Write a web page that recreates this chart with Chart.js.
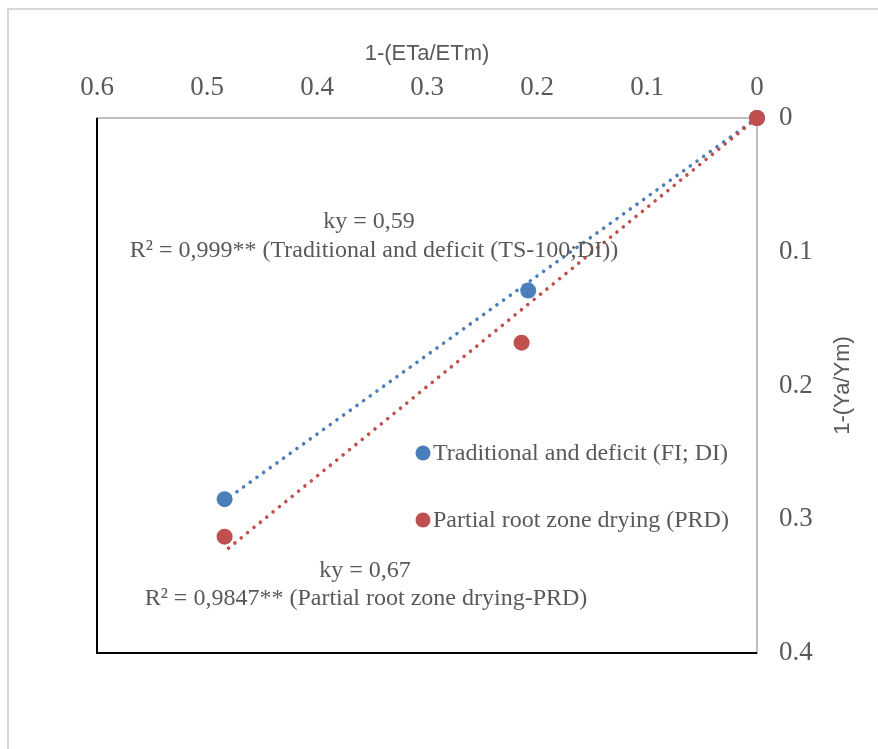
<!DOCTYPE html>
<html>
<head>
<meta charset="utf-8">
<script src="https://cdn.jsdelivr.net/npm/chart.js@4.4.1/dist/chart.umd.min.js"></script>
<style>
  html, body { margin: 0; padding: 0; background: #fff; }
  #wrap { width: 878px; height: 749px; position: relative; }
</style>
</head>
<body>
<div id="wrap"><canvas id="chart" width="878" height="749"></canvas></div>
<script>
// Data
const seriesNames = ['Traditional and deficit (FI; DI)', 'Partial root zone drying (PRD)'];
const tradX = [0, 0.208, 0.484];
const tradY = [0, 0.129, 0.285];
const prdX = [0, 0.214, 0.484];
const prdY = [0, 0.168, 0.313];

// trendlines through the origin (ky = slope)
const tradTrendX = [0, 0.484];
const tradTrendY = [0, 0.286];
const prdTrendX = [0, 0.484];
const prdTrendY = [0, 0.324];

const xTicks = [0, 0.1, 0.2, 0.3, 0.4, 0.5, 0.6];
const yTicks = [0, 0.1, 0.2, 0.3, 0.4];

const tradNote = ['ky = 0,59', 'R² = 0,999** (Traditional and deficit (TS-100;DI))'];
const prdNote = ['ky = 0,67', 'R² = 0,9847** (Partial root zone drying-PRD)'];

const blue = '#4a7ebb';
const red = '#c0504d';
const textGray = '#595959';
const serif = "'Liberation Serif', 'Times New Roman', serif";
const sans = "'Liberation Sans', Arial, sans-serif";

function pts(xs, ys) {
  return xs.map((x, i) => ({ x: x, y: ys[i] }));
}

// frame, outer border, legend, notes and the rotated y title
const decor = {
  id: 'decor',
  beforeDraw(chart) {
    const ctx = chart.ctx;
    ctx.save();
    ctx.fillStyle = '#fff';
    ctx.fillRect(0, 0, chart.width, chart.height);
    ctx.strokeStyle = '#d9d9d9';
    ctx.lineWidth = 2;
    ctx.strokeRect(8, 9, chart.width + 20, chart.height + 20);
    ctx.restore();
  },
  beforeDatasetsDraw(chart) {
    const ctx = chart.ctx;
    const a = chart.chartArea;
    ctx.save();
    ctx.strokeStyle = '#000';
    ctx.lineWidth = 2;
    ctx.beginPath();
    ctx.moveTo(a.left, a.top);
    ctx.lineTo(a.left, a.bottom);
    ctx.lineTo(a.right, a.bottom);
    ctx.stroke();
    ctx.restore();
  },
  afterDraw(chart) {
    const ctx = chart.ctx;
    const a = chart.chartArea;
    ctx.save();

    // legend inside the plot
    ctx.font = '24px ' + serif;
    ctx.textBaseline = 'middle';
    ctx.textAlign = 'left';
    const legendY = [453, 520];
    [blue, red].forEach((c, i) => {
      ctx.fillStyle = c;
      ctx.beginPath();
      ctx.arc(423, legendY[i], 7.5, 0, Math.PI * 2);
      ctx.fill();
      ctx.fillStyle = textGray;
      ctx.fillText(seriesNames[i], 433, legendY[i] + 1);
    });

    // trendline labels
    ctx.textAlign = 'center';
    ctx.fillText(tradNote[0], 369, 222);
    ctx.fillText(tradNote[1], 374, 251);
    ctx.fillText(prdNote[0], 365, 571);
    ctx.fillText(prdNote[1], 366, 599);

    // y axis title, reading bottom to top
    ctx.font = '22px ' + sans;
    ctx.translate(843, (a.top + a.bottom) / 2);
    ctx.rotate(-Math.PI / 2);
    ctx.fillText('1-(Ya/Ym)', 0, 0);
    ctx.restore();
  }
};

const trendStyle = {
  type: 'line',
  showLine: true,
  pointRadius: 0,
  borderWidth: 3.6,
  borderDash: [0.01, 8.2],
  borderCapStyle: 'round',
  fill: false,
  clip: false
};

new Chart(document.getElementById('chart'), {
  type: 'scatter',
  data: {
    datasets: [
      { label: seriesNames[1], data: pts(prdX, prdY), backgroundColor: red, borderColor: red, pointRadius: 8, pointBorderWidth: 0, order: 0, clip: false },
      { label: seriesNames[0], data: pts(tradX, tradY), backgroundColor: blue, borderColor: blue, pointRadius: 8, pointBorderWidth: 0, order: 1, clip: false },
      Object.assign({ label: 'trend FI', data: pts(tradTrendX, tradTrendY), borderColor: blue, order: 3 }, trendStyle),
      Object.assign({ label: 'trend PRD', data: pts(prdTrendX, prdTrendY), borderColor: red, order: 2 }, trendStyle)
    ]
  },
  options: {
    responsive: false,
    animation: false,
    layout: { padding: { left: 97, right: 0, top: 0, bottom: 96 } },
    plugins: { legend: { display: false }, tooltip: { enabled: false } },
    scales: {
      x: {
        type: 'linear',
        position: 'top',
        reverse: true,
        min: 0,
        max: 0.6,
        afterBuildTicks(scale) { scale.ticks = xTicks.map(v => ({ value: v })); },
        afterFit(scale) { scale.height = 118; },
        grid: { display: false, drawTicks: false },
        border: { display: true, color: '#bfbfbf', width: 2 },
        ticks: {
          color: textGray,
          padding: 14,
          font: { family: serif, size: 27 },
          maxRotation: 0,
          callback: v => String(v)
        },
        title: {
          display: true,
          text: '1-(ETa/ETm)',
          color: textGray,
          font: { family: sans, size: 22 },
          padding: { top: 41, bottom: 0 }
        }
      },
      y: {
        type: 'linear',
        position: 'right',
        reverse: true,
        min: 0,
        max: 0.4,
        afterBuildTicks(scale) { scale.ticks = yTicks.map(v => ({ value: v })); },
        afterFit(scale) { scale.width = 121; },
        grid: { display: false, drawTicks: false },
        border: { display: true, color: '#bfbfbf', width: 2 },
        ticks: {
          color: textGray,
          padding: 22,
          font: { family: serif, size: 27 },
          callback: v => String(v)
        }
      }
    }
  },
  plugins: [decor]
});
</script>
</body>
</html>
